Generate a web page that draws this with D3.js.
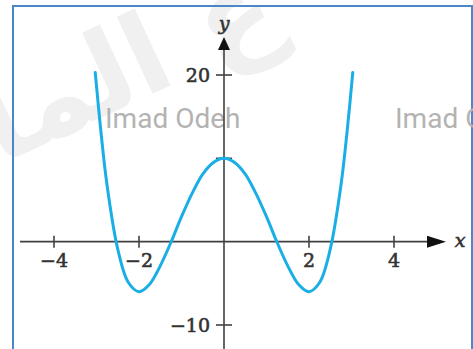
<!DOCTYPE html>
<html>
<head>
<meta charset="utf-8">
<script src="https://cdn.jsdelivr.net/npm/d3@7"></script>
<style>
  html, body { margin: 0; padding: 0; background: #fff; }
  svg { display: block; }
</style>
</head>
<body>
<script>
// Curve samples of the graph (x, y)
const xValues = [-3.03, -2.9, -2.75, -2.5, -2.25, -2, -1.75, -1.5, -1.25, -1, -0.75, -0.5, -0.25, 0,
                 0.25, 0.5, 0.75, 1, 1.25, 1.5, 1.75, 2, 2.25, 2.5, 2.75, 2.9, 3.03];
const yValues = [20.3, 13.4, 6.7, -0.9, -4.9, -6, -5.1, -2.9, -0.1, 3, 5.8, 8.1, 9.5, 10,
                 9.5, 8.1, 5.8, 3, -0.1, -2.9, -5.1, -6, -4.9, -0.9, 6.7, 13.4, 20.3];
const xTicks = [-4, -2, 2, 4];
const yTicks = [20, 10, -10];
const yTickLabels = ["20", "", "\u221210"];
const watermark = "Imad Odeh";

const W = 473, H = 349;
const svg = d3.select("body").append("svg").attr("width", W).attr("height", H);

const x = d3.scaleLinear().domain([-4, 4]).range([54, 394]);
const y = d3.scaleLinear().domain([-10, 20]).range([325, 75]);

// faint background lettering
svg.append("text")
  .attr("transform", "translate(0,165) rotate(-25)")
  .attr("font-family", "'DejaVu Sans', sans-serif")
  .attr("font-weight", "bold")
  .attr("font-size", 112)
  .attr("fill", "#f0f0f0")
  .text("ع الما");

// frame
svg.append("rect")
  .attr("x", 13).attr("y", 6).attr("width", 459).attr("height", 360)
  .attr("fill", "none").attr("stroke", "#4a86c8").attr("stroke-width", 2);

// watermark labels
svg.selectAll("text.wm").data([105, 395]).join("text")
  .attr("class", "wm")
  .attr("x", d => d).attr("y", 128)
  .attr("font-family", "Roboto, sans-serif")
  .attr("font-size", 28)
  .attr("fill", "#b3b3b3")
  .text(watermark);

const axisColor = "#404040";
const x0 = x(0), y0 = y(0);

// axes lines
svg.append("line").attr("x1", 20).attr("x2", 432).attr("y1", y0).attr("y2", y0)
  .attr("stroke", axisColor).attr("stroke-width", 1.6);
svg.append("line").attr("x1", x0).attr("x2", x0).attr("y1", H + 5).attr("y2", 46)
  .attr("stroke", axisColor).attr("stroke-width", 1.6);

// arrowheads
svg.append("path")
  .attr("d", `M${446},${y0} L${427},${y0 - 6} L${427},${y0 + 6} Z`)
  .attr("fill", "#111");
svg.append("path")
  .attr("d", `M${x0},${37} L${x0 - 6},${50} L${x0 + 6},${50} Z`)
  .attr("fill", "#111");

// ticks
svg.selectAll("line.xt").data(xTicks).join("line")
  .attr("x1", d => x(d)).attr("x2", d => x(d))
  .attr("y1", y0 - 6).attr("y2", y0 + 6)
  .attr("stroke", axisColor).attr("stroke-width", 1.6);
svg.selectAll("line.yt").data(yTicks).join("line")
  .attr("x1", x0 - 8).attr("x2", x0 + 8)
  .attr("y1", d => y(d)).attr("y2", d => y(d))
  .attr("stroke", axisColor).attr("stroke-width", 1.6);

const labelFont = "'DejaVu Serif', serif";
function heavy(sel) {
  return sel.attr("font-family", labelFont).attr("font-size", 19)
    .attr("fill", "#333").attr("stroke", "#333").attr("stroke-width", 0.6);
}
heavy(svg.selectAll("text.xl").data(xTicks).join("text")
  .attr("x", d => x(d)).attr("y", y0 + 25)
  .attr("text-anchor", "middle"))
  .text(d => d < 0 ? "\u2212" + Math.abs(d) : String(d));
heavy(svg.selectAll("text.yl").data(yTicks).join("text")
  .attr("x", x0 - 14).attr("y", d => y(d) + 7)
  .attr("text-anchor", "end"))
  .text((d, i) => yTickLabels[i]);

// axis names
heavy(svg.append("text").attr("x", 460).attr("y", y0 + 5)
  .attr("text-anchor", "middle").attr("font-style", "italic")).text("x");
heavy(svg.append("text").attr("x", x0).attr("y", 30)
  .attr("text-anchor", "middle").attr("font-style", "italic")).text("y");

// the curve
const pts = xValues.map((v, i) => [v, yValues[i]]);
const line = d3.line().x(d => x(d[0])).y(d => y(d[1])).curve(d3.curveCatmullRom.alpha(0.5));
svg.append("path").datum(pts)
  .attr("d", line)
  .attr("fill", "none")
  .attr("stroke", "#1aaee6")
  .attr("stroke-width", 3)
  .attr("stroke-linecap", "round");
</script>
</body>
</html>
